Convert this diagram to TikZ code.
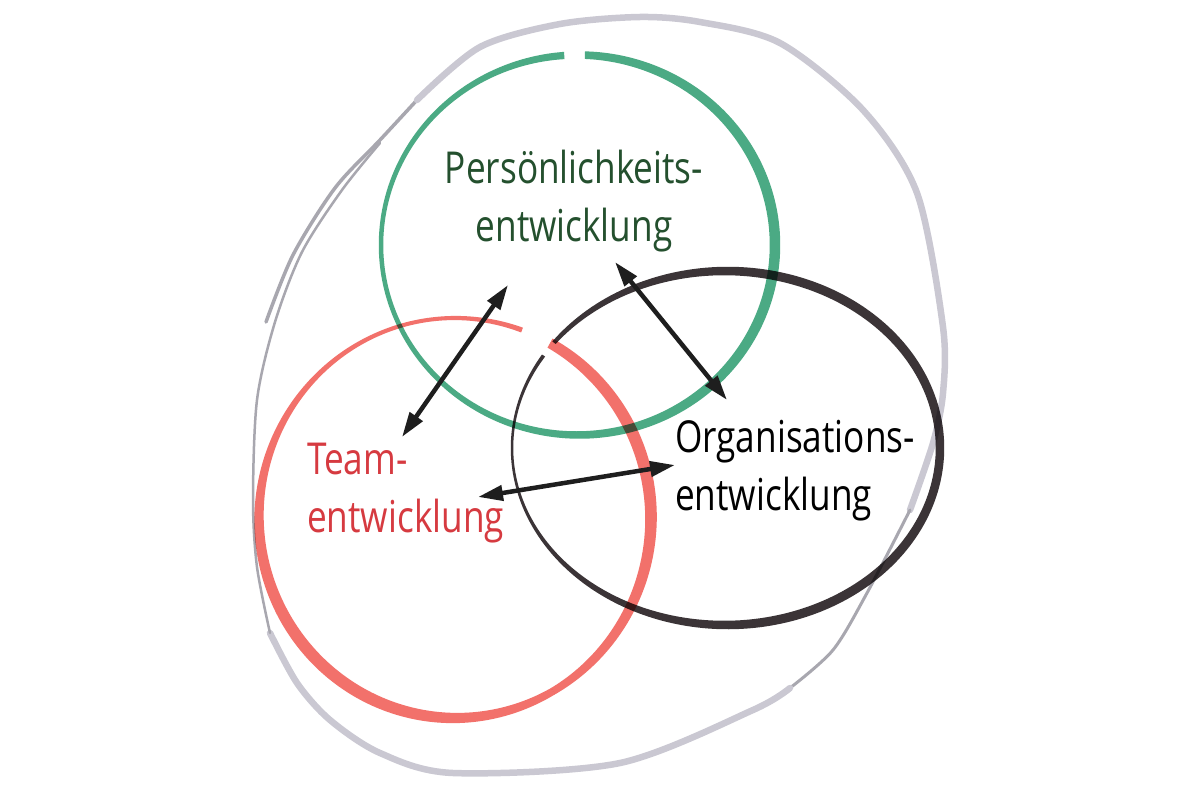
\documentclass[tikz,border=0pt]{standalone}
\usepackage{fontspec}
\setmainfont{Open Sans}[FakeStretch=0.8]
\usetikzlibrary{arrows.meta}

\definecolor{markergreen}{HTML}{4BAA84}
\definecolor{textgreen}{HTML}{24502E}
\definecolor{markerred}{HTML}{F2716B}
\definecolor{textred}{HTML}{D63A40}
\definecolor{markerblack}{HTML}{3B3437}
\definecolor{arrowink}{HTML}{1E1E1E}
\definecolor{pencillight}{HTML}{CAC8D2}
\definecolor{pencildark}{HTML}{A8A7AF}

% marker stroke of varying width along an ellipse:
% [colour] {cx}{cy}{rx}{ry}{from}{to}{width in \t}
\newcommand{\markerarc}[8][]{%
  \fill[#1] plot[domain=#6:#7, samples=120, smooth, variable=\t]
      ({#2+(#4+0.5*(#8))*cos(\t)}, {#3+(#5+0.5*(#8))*sin(\t)})
    -- plot[domain=#7:#6, samples=120, smooth, variable=\t]
      ({#2+(#4-0.5*(#8))*cos(\t)}, {#3+(#5-0.5*(#8))*sin(\t)})
    -- cycle;}

\begin{document}
\begin{tikzpicture}[x=1pt, y=-1pt, >={Triangle[length=25pt, width=15pt]}]
  \tikzset{
    pencil/.style={draw=pencillight, line cap=round, line join=round},
    twoway/.style={<->, draw=arrowink, line width=4.5pt},
    venntext/.style={font=\fontsize{44}{58}\selectfont, inner sep=0pt}
  }

  \useasboundingbox (0,0) rectangle (1200,800);
  \fill[white] (0,0) rectangle (1200,800);

  % outer pencil loop
  \draw[pencil, draw=pencildark, line width=3.5pt] plot[smooth] coordinates
    {(266,322) (293,255) (335,188) (380,140) (417,100)};
  \draw[pencil, line width=6.5pt] plot[smooth] coordinates
    {(417,100) (480,47) (560,24) (640,17) (700,22) (780,43) (863,110) (917,193)
     (943,327) (943,393) (933,443) (910,510)};
  \draw[pencil, draw=pencildark, line width=3pt] plot[smooth] coordinates
    {(910,510) (867,593) (833,650) (790,688)};
  \draw[pencil, line width=6.5pt] plot[smooth] coordinates
    {(790,688) (753,710) (620,763) (453,773) (380,753) (330,720) (297,683) (270,633)};
  \draw[pencil, draw=pencildark, line width=2.5pt] plot[smooth] coordinates
    {(270,633) (257,567) (253,500) (257,400) (275,322) (302,252) (342,190) (380,143)};

  % the three marker rings
  \begin{scope}[blend mode=multiply]
    \markerarc[markergreen]{578}{245}{197}{190}{-88}{266}{7.5+3*cos(\t)}
    \markerarc[markerred]{455}{518}{196}{200}{-61}{60}{9+3*cos(1.5*(\t+20))}
    \markerarc[markerred]{455}{518}{196}{200}{60}{290}{8+4*cos(1.4*(\t-130))}
    \markerarc[markerblack]{726}{448}{214}{177}{216.5}{571.5}{7+3*cos(\t)-1.5*cos(2*\t)}
  \end{scope}

  % labels
  \node[venntext, text=textgreen, align=center, anchor=north] (pers) at (574,150)
    {Persönlichkeits-\\entwicklung};
  \node[venntext, text=textred, align=left, anchor=north west] (team) at (307,443)
    {Team-\\entwicklung};
  \node[venntext, text=black, align=left, anchor=north west] (orga) at (675,420)
    {Organisations-\\entwicklung};

  % arrow ends
  \coordinate (pers-team) at (508,285);
  \coordinate (team-pers) at (402,437);
  \coordinate (pers-orga) at (615,262);
  \coordinate (orga-pers) at (727,400);
  \coordinate (team-orga) at (478,497);
  \coordinate (orga-team) at (675,465);

  \draw[twoway] (pers-team) -- (team-pers);
  \draw[twoway] (pers-orga) -- (orga-pers);
  \draw[twoway] (team-orga) -- (orga-team);
\end{tikzpicture}
\end{document}
